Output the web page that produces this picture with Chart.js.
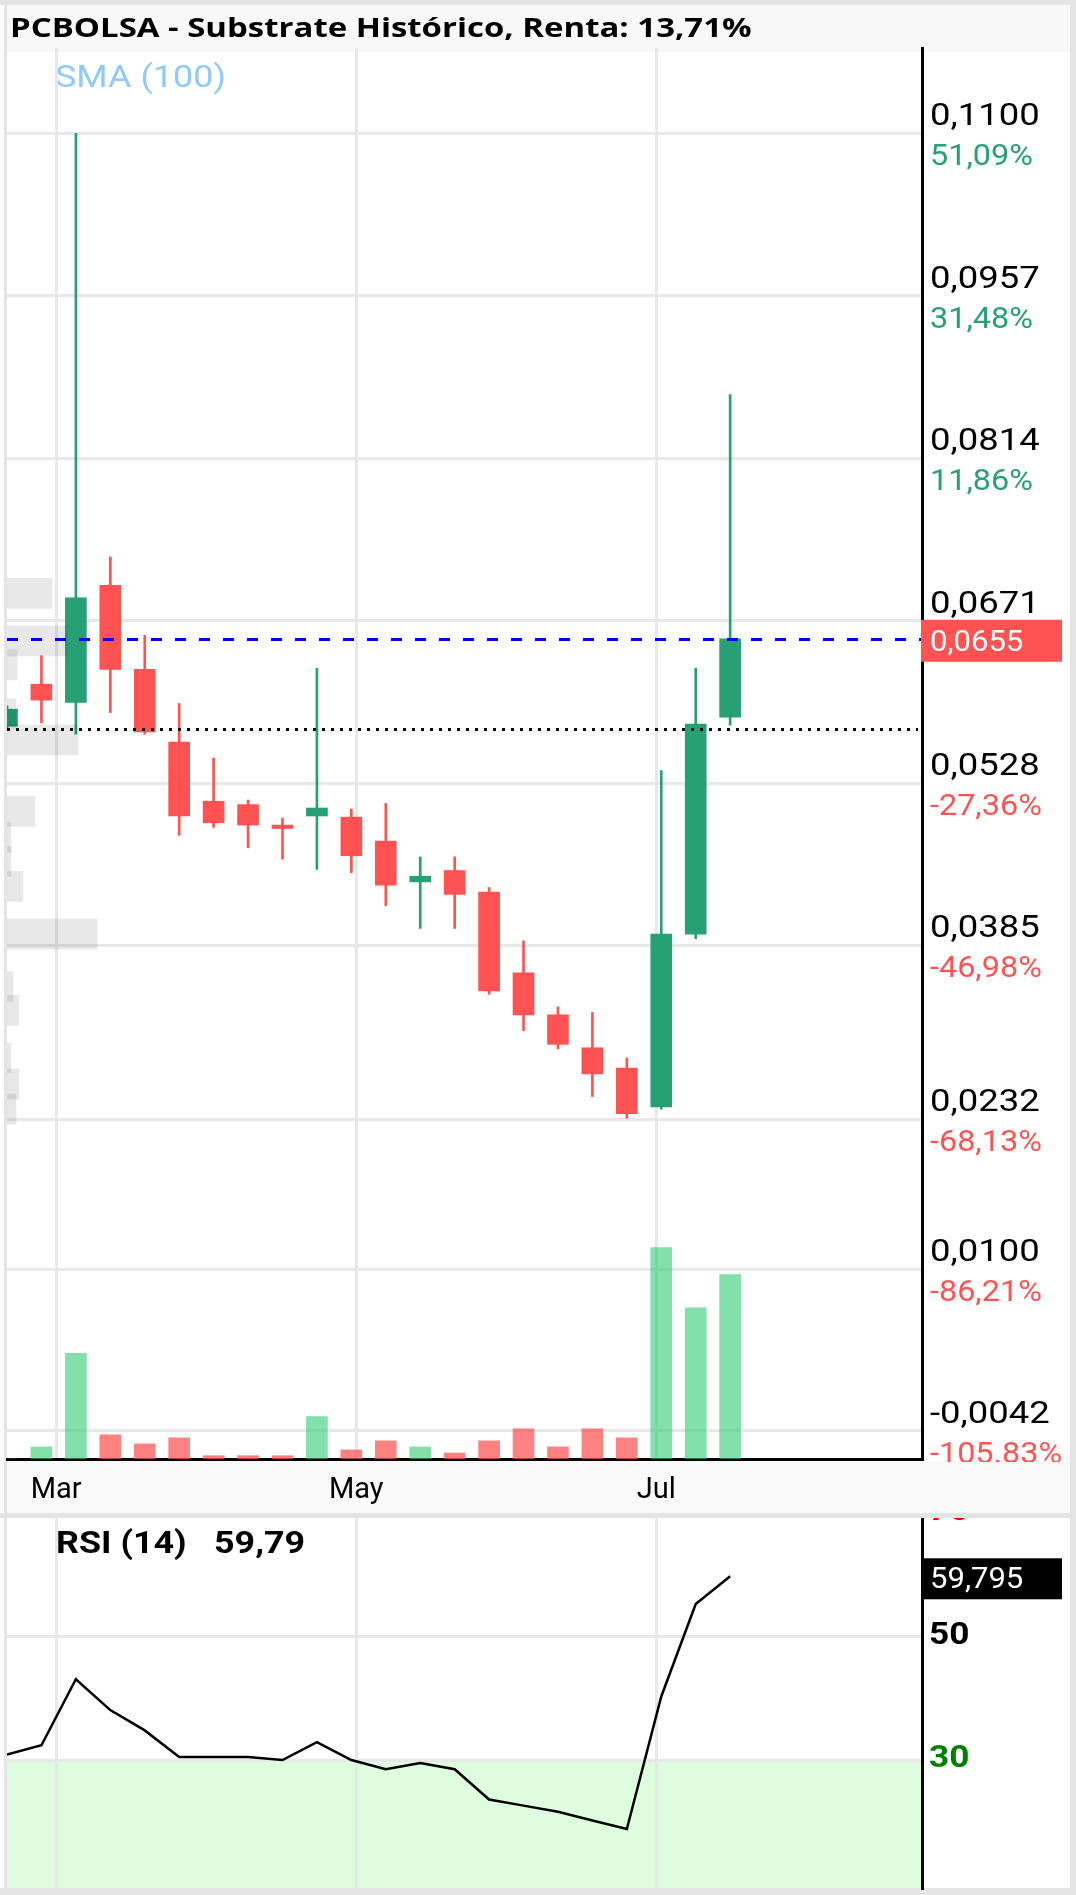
<!DOCTYPE html>
<html>
<head>
<meta charset="utf-8">
<script src="https://cdn.jsdelivr.net/npm/chart.js@4.4.1/dist/chart.umd.min.js"></script>
<style>
  html, body { margin: 0; padding: 0; background: #fff; }
  #wrap { position: relative; width: 1076px; height: 1895px; overflow: hidden; }
  #main { position: absolute; left: 0; top: 0; }
  #rsi { position: absolute; left: 0; top: 1518px; }
</style>
</head>
<body>
<div id="wrap">
  <canvas id="main" width="1076" height="1518"></canvas>
  <canvas id="rsi" width="1076" height="377"></canvas>
</div>
<script>
// weekly candles
const dates = ['2023-02-19','2023-02-26','2023-03-05','2023-03-12','2023-03-19','2023-03-26','2023-04-02','2023-04-09','2023-04-16','2023-04-23','2023-04-30','2023-05-07','2023-05-14','2023-05-21','2023-05-28','2023-06-04','2023-06-11','2023-06-18','2023-06-25','2023-07-02','2023-07-09','2023-07-16'];
const open  = [0.0578,0.0615,0.0599,0.0702,0.0628,0.0564,0.0512,0.0509,0.0491,0.0499,0.0498,0.0477,0.0441,0.0451,0.0432,0.0361,0.0324,0.0295,0.0277,0.0243,0.0395,0.0586];
const high  = [0.0596,0.0640,0.1100,0.0727,0.0658,0.0598,0.0550,0.0513,0.0497,0.0629,0.0505,0.0510,0.0463,0.0463,0.0436,0.0389,0.0331,0.0326,0.0286,0.0539,0.0629,0.0870];
const low   = [0.0576,0.0581,0.0571,0.0590,0.0571,0.0482,0.0489,0.0471,0.0461,0.0452,0.0449,0.0420,0.0400,0.0400,0.0342,0.0310,0.0294,0.0252,0.0233,0.0241,0.0391,0.0579];
const close = [0.0593,0.0601,0.0691,0.0628,0.0573,0.0499,0.0493,0.0491,0.0488,0.0506,0.0464,0.0438,0.0446,0.0430,0.0345,0.0324,0.0298,0.0272,0.0237,0.0395,0.0580,0.0655];
const volume = [0,12000,105000,24000,15000,21000,3300,3300,3300,42000,9000,18000,12000,6000,18000,30000,12000,30000,21000,210000,150000,183000];
const rsi = [30.9,32.4,43.1,38.1,34.8,30.5,30.5,30.5,30.0,32.9,30.0,28.5,29.5,28.5,23.6,22.6,21.6,20.2,18.8,40.3,55.3,59.795];

// volume by price (left histogram)
const profilePrice  = [0.0695,0.0653,0.0632,0.0589,0.0566,0.0503,0.0480,0.0459,0.0437,0.0395,0.0349,0.0328,0.0286,0.0263,0.0241];
const profileVolume = [45,60,10,9,71,28,4,4,16,90,6,12,4,12,9];

// axis ticks
const priceTicks = [0.1100,0.0957,0.0814,0.0671,0.0528,0.0385,0.0232,0.0100,-0.0042];
const pctLabels  = ['51,09%','31,48%','11,86%','-7,79%','-27,36%','-46,98%','-68,13%','-86,21%','-105.83%'];
const monthTicks  = ['2023-03-01','2023-05-01','2023-07-01'];
const monthLabels = ['Mar','May','Jul'];
const rsiTicks = [30, 50, 70];

const lastPrice = 0.0655;
const basePrice = 0.0576;
const titleText = 'PCBOLSA - Substrate Histórico, Renta: 13,71%';
const xStart = '2023-02-19', xEnd = '2023-08-24';

const GREEN = '#26a074', RED = '#ff5252';
const day0 = Date.UTC(2023, 2, 1);
const toDay = s => (Date.parse(s) - day0) / 86400000;
const days = dates.map(toDay);
const up = close.map((c, i) => c >= open[i]);
const volUp = close.map((c, i) => i === 0 || c >= close[i - 1]);
const fmt = (v, d) => v.toFixed(d).replace('.', ',');

Chart.defaults.font.family = 'Roboto';

function stretchText(ctx, text, x, y, font, color, sx, baseline) {
  ctx.save();
  ctx.font = font;
  ctx.fillStyle = color;
  ctx.textBaseline = baseline || 'alphabetic';
  ctx.translate(x, y);
  ctx.scale(sx, 1);
  ctx.fillText(text, 0, 0);
  ctx.restore();
}

const gridStyle = { color: '#e8e8e8', lineWidth: 3, drawTicks: false, offset: false };
const monthTickBuilder = s => { s.ticks = monthTicks.map(m => ({ value: toDay(m) })); };

const mainDecor = {
  id: 'mainDecor',
  beforeDraw(chart) {
    const { ctx, width, height, chartArea } = chart;
    ctx.save();
    ctx.fillStyle = '#fff';
    ctx.fillRect(0, 0, width, height);
    ctx.fillStyle = '#f8f8f8';
    ctx.fillRect(7, 5, 1063, 47);
    ctx.fillStyle = '#f9f9f9';
    ctx.fillRect(7, chartArea.bottom + 2, 1063, 1513 - chartArea.bottom - 2);
    ctx.fillStyle = '#e4e4e4';
    ctx.fillRect(0, 0, width, 5);
    ctx.fillRect(0, 1513, width, 5);
    ctx.fillRect(4, 0, 3, height);
    ctx.fillRect(1070, 0, 6, height);
    ctx.restore();
    stretchText(ctx, titleText, 10, 37, 'bold 27px "Open Sans"', '#000', 1.22);
    stretchText(ctx, 'SMA (100)', 55, 87, '31px Roboto', '#90caf9', 1.16);
  },
  afterDatasetDraw(chart, args) {
    if (args.index !== 1) return;
    const { ctx, chartArea } = chart;
    const yS = chart.scales.y;
    ctx.save();
    ctx.lineWidth = 3;
    ctx.strokeStyle = '#000';
    ctx.setLineDash([3, 6]);
    let py = Math.round(yS.getPixelForValue(basePrice)) + 0.5;
    ctx.beginPath(); ctx.moveTo(chartArea.left, py); ctx.lineTo(chartArea.right - 4, py); ctx.stroke();
    ctx.strokeStyle = '#0000ff';
    ctx.setLineDash([11, 13]);
    py = Math.round(yS.getPixelForValue(lastPrice)) + 0.5;
    ctx.beginPath(); ctx.moveTo(chartArea.left, py); ctx.lineTo(chartArea.right, py); ctx.stroke();
    ctx.restore();
  },
  afterDraw(chart) {
    const { ctx, width, chartArea } = chart;
    const yS = chart.scales.y;
    ctx.save();
    ctx.beginPath();
    ctx.rect(0, 0, width, chartArea.bottom + 3);
    ctx.clip();
    priceTicks.forEach((v, i) => {
      const py = yS.getPixelForValue(v);
      stretchText(ctx, fmt(v, 4), 930, py - 8, '32px Roboto', '#000', 1.14);
      stretchText(ctx, pctLabels[i], 930, py + 32, '30px Roboto', pctLabels[i].startsWith('-') ? RED : GREEN, 1.08);
    });
    ctx.restore();
    const ly = yS.getPixelForValue(lastPrice);
    ctx.fillStyle = RED;
    ctx.fillRect(921, ly - 19, 141, 42);
    stretchText(ctx, fmt(lastPrice, 4), 930, ly + 12, '29px Roboto', '#fff', 1.07);
  }
};

new Chart(document.getElementById('main'), {
  type: 'bar',
  data: {
    datasets: [
      {
        label: 'Perfil', indexAxis: 'y', xAxisID: 'xp', yAxisID: 'y',
        data: profilePrice.map((p, i) => ({ x: profileVolume[i], y: p })),
        backgroundColor: 'rgba(0,0,0,0.09)', barThickness: 30, grouped: false, order: 0, clip: 0
      },
      {
        label: 'Cuerpo', xAxisID: 'x', yAxisID: 'y',
        data: days.map((d, i) => ({ x: d, y: [open[i], close[i]] })),
        backgroundColor: up.map(u => u ? GREEN : RED), barThickness: 21, grouped: false, order: 1, clip: 0
      },
      {
        label: 'Mecha', xAxisID: 'x', yAxisID: 'y',
        data: days.map((d, i) => ({ x: d, y: [low[i], high[i]] })),
        backgroundColor: up.map(u => u ? GREEN : RED), barThickness: 2, grouped: false, order: 2, clip: 0
      },
      {
        label: 'Volumen', xAxisID: 'x', yAxisID: 'yv',
        data: days.map((d, i) => ({ x: d, y: volume[i] })),
        backgroundColor: volUp.map(u => u ? 'rgba(46,204,113,0.6)' : 'rgba(255,82,82,0.72)'),
        barThickness: 21, grouped: false, order: 3, clip: 0
      }
    ]
  },
  options: {
    responsive: false,
    animation: false,
    devicePixelRatio: 1,
    layout: { padding: { left: 7, top: 48, right: 0, bottom: 0 } },
    plugins: { legend: { display: false }, tooltip: { enabled: false } },
    scales: {
      x: {
        type: 'linear', position: 'bottom', min: toDay(xStart), max: toDay(xEnd), offset: false,
        grid: gridStyle,
        border: { display: true, color: '#000', width: 3 },
        afterBuildTicks: monthTickBuilder,
        ticks: { callback: (v, i) => monthLabels[i], color: '#000', font: { size: 29 }, padding: 14, maxRotation: 0, autoSkip: false },
        afterFit: s => { s.height = 59; }
      },
      xp: {
        type: 'linear', axis: 'x', position: 'top', min: 0, max: Math.max(...profileVolume) * 10.17,
        offset: false,
        grid: { display: false, offset: false },
        border: { display: false },
        ticks: { display: false },
        afterFit: s => { s.height = 0; }
      },
      y: {
        type: 'linear', position: 'right', min: -0.0067, max: 0.1175, offset: false,
        grid: gridStyle,
        border: { display: true, color: '#000', width: 3 },
        afterBuildTicks: s => { s.ticks = priceTicks.map(v => ({ value: v })); },
        ticks: { display: false },
        afterFit: s => { s.width = 154; }
      },
      yv: { type: 'linear', axis: 'y', display: false, min: 0, max: Math.max(...volume) * 6.67 }
    }
  },
  plugins: [mainDecor]
});

const rsiDecor = {
  id: 'rsiDecor',
  beforeDraw(chart) {
    const { ctx, width, height, chartArea } = chart;
    const yS = chart.scales.y;
    ctx.save();
    ctx.fillStyle = '#fff';
    ctx.fillRect(0, 0, width, height);
    ctx.fillStyle = '#defcde';
    const y30 = yS.getPixelForValue(30);
    ctx.fillRect(chartArea.left, y30, chartArea.right - chartArea.left, chartArea.bottom - y30);
    ctx.fillStyle = '#e4e4e4';
    ctx.fillRect(4, 0, 3, height);
    ctx.fillRect(1070, 0, 6, height);
    ctx.fillRect(0, chartArea.bottom, width, height - chartArea.bottom);
    ctx.restore();
  },
  afterDraw(chart) {
    const { ctx } = chart;
    const yS = chart.scales.y;
    const levelColors = { 30: '#008000', 50: '#000', 70: '#ff0000' };
    const last = rsi[rsi.length - 1];
    stretchText(ctx, 'RSI (14)', 56, 35, 'bold 32px Roboto', '#000', 1.12);
    stretchText(ctx, fmt(Math.floor(last * 100) / 100, 2), 214, 35, 'bold 32px Roboto', '#000', 1.12);
    rsiTicks.forEach(v => {
      stretchText(ctx, String(v), 929, yS.getPixelForValue(v) - 1, 'bold 32px Roboto', levelColors[v], 1.1, 'middle');
    });
    const ly = yS.getPixelForValue(last);
    ctx.fillStyle = '#000';
    ctx.fillRect(921, ly - 18, 141, 41);
    stretchText(ctx, fmt(last, 3), 930, ly + 12, '29px Roboto', '#fff', 1.07);
  }
};

new Chart(document.getElementById('rsi'), {
  type: 'line',
  data: {
    datasets: [{
      label: 'RSI (14)',
      data: days.map((d, i) => ({ x: d, y: rsi[i] })),
      borderColor: '#000', borderWidth: 2.5, pointRadius: 0, tension: 0, clip: 0
    }]
  },
  options: {
    responsive: false,
    animation: false,
    devicePixelRatio: 1,
    layout: { padding: { left: 7, top: 0, right: 0, bottom: 7 } },
    plugins: { legend: { display: false }, tooltip: { enabled: false } },
    scales: {
      x: {
        type: 'linear', min: toDay(xStart), max: toDay(xEnd), offset: false,
        grid: gridStyle,
        border: { display: false },
        afterBuildTicks: monthTickBuilder,
        ticks: { display: false },
        afterFit: s => { s.height = 0; }
      },
      y: {
        type: 'linear', position: 'right', min: 9.24, max: 69.25,
        grid: gridStyle,
        border: { display: true, color: '#000', width: 3 },
        afterBuildTicks: s => { s.ticks = rsiTicks.filter(v => v <= s.max).map(v => ({ value: v })); },
        ticks: { display: false },
        afterFit: s => { s.width = 154; }
      }
    }
  },
  plugins: [rsiDecor]
});
</script>
</body>
</html>
